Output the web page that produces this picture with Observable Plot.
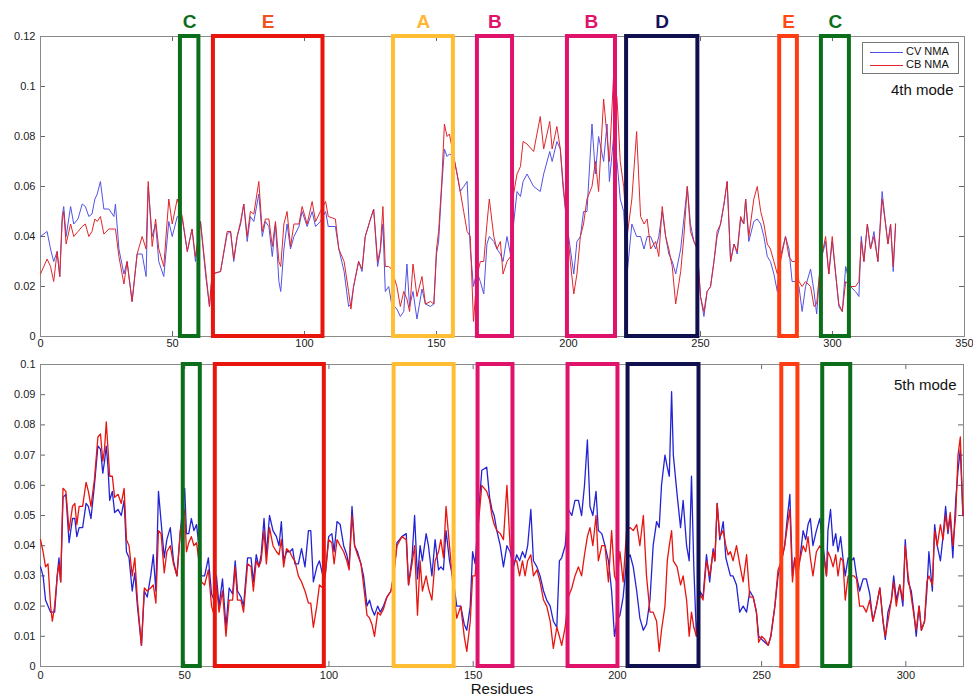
<!DOCTYPE html>
<html>
<head>
<meta charset="utf-8">
<script src="https://cdn.jsdelivr.net/npm/d3@7"></script>
<script src="https://cdn.jsdelivr.net/npm/@observablehq/plot@0.6"></script>
<style>
  html, body { margin: 0; padding: 0; background: #fff; overflow: hidden; }
  #wrap { position: relative; width: 973px; height: 699px; background: #fff; font-family: "Liberation Sans", Arial, sans-serif; }
  #wrap svg { position: absolute; left: 0; overflow: visible; }
  #legend { position: absolute; left: 862px; top: 42px; width: 95px; height: 30px; border: 1px solid #777; background: #fff; font-size: 11px; color: #111; }
  #legend .row { position: absolute; left: 7px; height: 13px; line-height: 13px; white-space: nowrap; }
  #legend .sw { display: inline-block; width: 33px; height: 1px; vertical-align: middle; margin-right: 3px; }
</style>
</head>
<body>
<div id="wrap"></div>
<script>
// ---------- data ----------
const regionLabels = ["C", "E", "A", "B", "B", "D", "E", "C"];
const topRegionStart = [53, 65.5, 133.7, 165.5, 199.6, 222, 280, 295.8];
const topRegionEnd   = [60, 107, 156.4, 178.8, 217.8, 249, 286.7, 306.4];
const botRegionStart = [49.5, 60.6, 122.6, 151.7, 182.9, 203.7, 257, 271.2];
const botRegionEnd   = [55.4, 98.4, 143.4, 163.8, 200.2, 228.3, 262.6, 280.9];

const topXTicks = [0, 50, 100, 150, 200, 250, 300, 350];
const topYTicks = [0, 0.02, 0.04, 0.06, 0.08, 0.1, 0.12];
const botXTicks = [0, 50, 100, 150, 200, 250, 300];
const botYTicks = [0, 0.01, 0.02, 0.03, 0.04, 0.05, 0.06, 0.07, 0.08, 0.09, 0.1];

const seriesNames = ["CV NMA", "CB NMA"];
const modeLabels = ["4th mode", "5th mode"];

// 4th mode (top panel)
const topRes = [
  0,2.5,3.8,5,6.3,7.3,8.2,8.8,9.7,11.4, 12.6,14.2,15.8,17,18.3,19.5,20.6,21.5,22.7,24,
  25.9,27.8,28.4,29.7,31.6,32.8,34.7,36.6,38.5,40, 40.8,42.3,43.6,44.8,46.7,48.6,49.9,51.8,53.7,55.6,
  57.4,58.7,60.6,62.5,64,65,68.2,70.7,72,73.2, 74.5,75.8,77,78.3,79.5,80.8,82.7,84,85.2,86.5,
  87.8,89,90.3,91,92.2,93.4,94.7,96,97.9,99.1, 101,102.9,104.2,106,108,
  109,111.7,113,115,116.7,117.6,118.6,120.5,121.8,123, 125,126.2,127.7,128.7,129.7,130.6,131.9,133,135,136.3,
  137.6,138.8,139.8,141.1,142.6,144.5,145.8,147.7,149,150, 150.8,152,153,154,154.9,156.5,157.8,159,160.3,161.6,
  162.8,164,165.3,166.6,167.9,169.1,170,171.7,172.9,174.2, 175.2,176.7,178,179.2,180.5,181.8,182.8,184.3,186.8,189.3,
  190.6,192.9,193.8,195.6,196.9,197.9,199.4,200.7,202,203.2, 204.5,205.7,207,208.9,210.2,211.4,213.3,214.6,215.5,217.1,
  218.4,219.6,220.9,222.2,224,225.8,
  227.3,228.6,229.8,231.1,233,234.2,235.5,236.8,238,239.3, 240.6,242.5,243.7,245,246.2,247.5,248.8,250,251.3,252.5,
  253.8,255.1,256.3,257.6,258.9,260.1,261.4,262.7,263.9,265.2, 266.4,267.1,268.3,270.2,271.5,272.8,274,275.3,276.5,277.8,
  279.1,280.3,282.2,283.5,284.7,286,287.3,288.5,289.8,291.7, 293,294,295.5,297.4,298.6,299.9,301.2,302.4,303.7,305,
  306.8,308.7,310,310.9,311.9,313.2,314.4,315.7,317.2,318.8, 320.1,321,322,323,323.9
];
const topCV = [
  .040,.042,.035,.030,.034,.024,.048,.052,.040,.052, .045,.047,.053,.052,.048,.049,.055,.057,.062,.051,
  .051,.048,.053,.035,.025,.030,.014,.033,.033,.024, .060,.040,.045,.030,.024,.046,.040,.048,.047,.034,
  .043,.030,.046,.025,.012,.025,.026,.041,.042,.030, .040,.045,.053,.038,.048,.046,.057,.040,.046,.044,
  .032,.045,.022,.018,.035,.045,.035,.040,.044,.050, .044,.050,.044,.046,.050,
  .044,.044,.035,.026,.012,.013,.020,.030,.026,.040, .047,.051,.028,.034,.045,.018,.020,.013,.011,.008,
  .010,.029,.012,.018,.007,.019,.013,.012,.013,.033, .038,.060,.075,.072,.073,.072,.065,.058,.060,.062,
  .035,.020,.026,.022,.017,.037,.040,.038,.035,.033, .030,.040,.033,.045,.058,.056,.062,.065,.060,.058,
  .065,.074,.070,.078,.075,.060,.045,.035,.025,.038, .040,.050,.050,.085,.065,.080,.070,.085,.062,.080,
  .070,.055,.050,.025,.045,.040,
  .040,.035,.040,.040,.035,.040,.050,.040,.033,.030, .025,.035,.047,.060,.045,.038,.035,.016,.008,.018,
  .020,.030,.040,.045,.053,.062,.030,.037,.033,.047, .045,.055,.038,.046,.047,.045,.040,.032,.030,.025,
  .018,.032,.040,.035,.022,.022,.020,.010,.020,.027, .018,.009,.030,.038,.025,.038,.025,.012,.010,.028,
  .020,.018,.016,.040,.030,.045,.035,.042,.030,.058, .045,.037,.045,.026,.045
];
const topCB = [
  .025,.031,.028,.022,.034,.024,.046,.050,.037,.045, .040,.042,.044,.045,.040,.042,.047,.046,.048,.041,
  .043,.043,.043,.032,.021,.030,.014,.033,.040,.035, .062,.036,.047,.035,.028,.055,.045,.055,.048,.034,
  .043,.032,.046,.027,.012,.025,.026,.042,.042,.031, .040,.046,.053,.040,.050,.049,.062,.042,.047,.047,
  .036,.046,.030,.028,.045,.050,.036,.045,.045,.052, .045,.054,.046,.050,.054,
  .048,.047,.035,.030,.018,.011,.020,.030,.027,.040, .047,.051,.030,.035,.052,.028,.028,.027,.020,.012,
  .018,.015,.010,.029,.016,.024,.013,.014,.013,.035, .042,.062,.085,.080,.081,.072,.065,.058,.050,.042,
  .040,.006,.024,.030,.030,.045,.055,.040,.035,.038, .025,.030,.032,.057,.065,.068,.078,.077,.074,.088,
  .075,.086,.075,.084,.075,.062,.045,.030,.017,.025, .040,.045,.055,.060,.070,.058,.095,.080,.070,.105,
  .095,.070,.060,.040,.055,.082,
  .048,.045,.047,.035,.038,.032,.052,.040,.035,.028, .013,.026,.040,.060,.042,.038,.035,.016,.010,.018,
  .020,.030,.042,.045,.053,.062,.030,.037,.034,.048, .045,.055,.040,.055,.060,.050,.045,.037,.035,.030,
  .025,.030,.040,.032,.030,.030,.022,.020,.022,.020, .012,.013,.030,.040,.025,.040,.025,.013,.010,.022,
  .020,.020,.022,.038,.030,.045,.035,.040,.030,.055, .045,.037,.045,.028,.045
];

// 5th mode (bottom panel)
const botRes = [
  0,0.9,1.75,2.6,3.5,4.1,4.9,5.8,6.4,7, 7.8,8.8,9.9,11.1,11.9,12.6,13.4,14.6,15.8,16.6,
  17.5,18.7,19.9,20.8,21.6,22.2,22.8,23.4,24,24.9, 25.7,26.9,28,29,29.8,30.7,31.8,32.7,33.6,35,
  36,37,38.2,39.1,40,40.9,41.8,42.9,43.8,45, 46.1,47.3,48.5,50,50.6,51.4,52.3,53.2,54.1,54.9,
  55.8,56.9,58.2,59.3,60.2,61,61.9,63.1,64.3,65.4, 66.6,67.5,68.3,69.5,70.4,71.8,73,73.8,74.8,75.7,
  76.5,77.5,78.3,79.4,80.6,81.8,82.7,83.5,84.3,85.3, 86.4,87.4,88.2,89.4,90.5,91.7,92.9,93.7,94.6,95.8,
  96.7,97.9,98.7,99.9,
  101,101.8,102.8,103.9,105.1,106.2,107,108,108.9,109.9, 111.1,112,113.2,114.1,114.9,115.8,116.9,117.8,118.9,120.1,
  121.5,122.4,123.6,125.3,126.8,127.6,128.8,129.7,130.7,131.6, 132.4,133.7,134.5,135.7,136.8,138,138.8,139.7,140.6,141.8,
  143.2,144.3,145.7,146.9,147.8,149,149.8,150.7,151.8,153, 154.7,155.7,156.5,157.3,158.2,159.4,160.5,161.7,162.8,164,
  165.1,166.1,167.1,168,168.9,170,170.9,172.1,173.2,174.4, 175.5,176.7,177.8,179,179.9,180.7,181.9,183,184.2,185.3,
  186.5,187.6,188.6,189.6,190.5,191.5,192.6,193.4,194.6,195.7, 196.9,198,199,199.8,200.9,202,203.2,204.4,205.5,206.7,
  207.8,209,210.1,211.3,212.4,213.6,214.5,215.3,216.5,217.3, 218,218.8,219.4,220.7,221.9,222.8,224,224.9,225.7,226.5,
  227.4,228.6,229.7,230.9,232,233.2,233.8,234.6,235.5,236.7, 237.6,238.4,239.2,240.1,241.3,242.4,243.6,244.8,245.9,247.1,
  248.2,249,250,251.1,252.3,253.2,254.6,255.7,256.9,258, 259,259.8,260.7,261.5,262.3,263.2,264.4,265.3,266.1,266.9,
  267.8,269,270.2,271.3,272.5,273,273.9,274.8,275.7,276.5, 277.4,278.2,279,280,281.1,282,282.9,284,285.2,286.3,
  287.5,288.6,289.8,291,292.1,292.9,293.8,295,295.8,296.7, 297.9,299,299.8,300.8,301.9,302.8,303.6,304.6,305.4,306.5,
  307.3,308,309.2,310,310.9,312,312.9,313.8,314.6,315.4, 316.3,317.3,318.1,318.9,319.8
];
const botCV = [
  .033,.030,.022,.020,.018,.018,.018,.030,.036,.028, .056,.057,.041,.049,.049,.043,.046,.046,.054,.053,
  .049,.060,.073,.072,.064,.068,.073,.066,.055,.058, .051,.052,.050,.055,.038,.036,.025,.031,.020,.007,
  .025,.023,.030,.037,.025,.058,.048,.036,.042,.046, .035,.030,.045,.059,.044,.044,.049,.045,.047,.040,
  .030,.030,.036,.024,.022,.030,.020,.029,.013,.026, .024,.035,.025,.023,.020,.036,.036,.028,.037,.033,
  .037,.049,.037,.050,.045,.043,.040,.048,.035,.038, .038,.039,.034,.034,.039,.033,.045,.045,.028,.033,
  .035,.030,.030,.043,
  .044,.038,.048,.047,.040,.037,.033,.053,.040,.038, .034,.030,.020,.022,.019,.017,.020,.018,.020,.023,
  .025,.030,.041,.043,.044,.027,.036,.050,.029,.040, .035,.044,.040,.030,.042,.032,.033,.032,.045,.035,
  .028,.020,.020,.014,.012,.020,.038,.034,.050,.065, .066,.056,.052,.050,.045,.040,.033,.040,.038,.033,
  .037,.035,.038,.036,.040,.052,.035,.033,.030,.025, .022,.020,.015,.013,.035,.036,.040,.052,.050,.055,
  .055,.050,.060,.075,.053,.050,.058,.045,.044,.040, .035,.025,.010,.015,.017,.023,.035,.037,.033,.025,
  .016,.012,.014,.022,.040,.048,.046,.060,.070,.066, .063,.091,.070,.057,.046,.055,.040,.035,.063,.033,
  .010,.025,.023,.037,.028,.039,.035,.054,.042,.048, .036,.033,.030,.030,.027,.018,.020,.018,.025,.023,
  .018,.010,.009,.008,.007,.010,.020,.030,.035,.040, .050,.057,.030,.036,.032,.035,.045,.042,.047,.049,
  .040,.045,.049,.040,.030,.045,.052,.040,.044,.038, .043,.036,.030,.036,.035,.036,.030,.025,.029,.029,
  .024,.015,.020,.026,.015,.009,.018,.022,.030,.022, .027,.020,.042,.028,.025,.018,.010,.020,.012,.015,
  .025,.038,.025,.047,.040,.035,.043,.053,.044,.050, .036,.055,.065,.072,.050
];
const botCB = [
  .042,.038,.033,.034,.020,.015,.020,.030,.034,.028, .059,.058,.045,.053,.054,.047,.053,.053,.061,.058,
  .053,.062,.076,.077,.068,.072,.081,.072,.063,.063, .056,.057,.054,.059,.042,.040,.030,.036,.022,.007,
  .026,.025,.026,.027,.021,.045,.044,.031,.038,.040, .034,.030,.045,.052,.038,.041,.043,.040,.041,.035,
  .028,.027,.032,.020,.017,.027,.018,.025,.010,.022, .022,.033,.022,.022,.018,.034,.033,.025,.035,.033,
  .035,.045,.034,.046,.040,.038,.037,.042,.033,.039, .038,.036,.035,.030,.028,.025,.021,.021,.013,.020,
  .027,.026,.030,.042,
  .041,.034,.042,.040,.038,.035,.032,.050,.040,.037, .034,.027,.017,.016,.014,.010,.018,.017,.019,.023,
  .025,.030,.040,.043,.042,.027,.034,.040,.017,.035, .025,.030,.026,.022,.035,.038,.042,.036,.053,.040,
  .025,.016,.020,.010,.005,.015,.030,.030,.047,.060, .058,.055,.050,.047,.045,.044,.042,.060,.040,.035,
  .035,.030,.035,.030,.035,.037,.030,.032,.028,.022, .020,.015,.006,.013,.010,.007,.013,.023,.026,.030,
  .033,.030,.037,.043,.046,.040,.050,.035,.040,.040, .028,.045,.030,.028,.038,.028,.045,.046,.045,.047,
  .040,.050,.030,.018,.018,.015,.005,.012,.020,.035, .040,.045,.035,.033,.027,.030,.022,.010,.018,.013,
  .010,.024,.022,.035,.030,.038,.035,.054,.043,.045, .040,.037,.038,.035,.040,.034,.028,.037,.023,.023,
  .018,.008,.010,.009,.007,.010,.020,.032,.035,.040, .047,.052,.028,.036,.028,.035,.040,.038,.043,.036,
  .030,.038,.040,.038,.030,.038,.036,.033,.037,.030, .036,.035,.022,.030,.030,.030,.029,.020,.020,.018,
  .022,.015,.020,.026,.015,.010,.015,.022,.028,.020, .027,.022,.040,.030,.023,.017,.012,.020,.012,.015,
  .028,.030,.027,.045,.040,.047,.042,.050,.045,.051, .040,.050,.070,.076,.050
];

// ---------- styles ----------
const boxStroke  = ["#0c6d1a", "#e8150f", "#ffbe33", "#e0136c", "#e0136c", "#10104f", "#ff3c12", "#0c6d1a"];
const letterFill = ["#0c6d1a", "#f0531f", "#ffb635", "#e0136c", "#e0136c", "#13135a", "#ff4a18", "#0c6d1a"];
const cvColorTop = "#5252e6", cbColorTop = "#e0262b";
const cvColorBot = "#2323d6", cbColorBot = "#e8140e";
const fmt = d3.format("~g");

function rows(res, cv, cb) {
  const n = Math.min(res.length, cv.length, cb.length);
  return d3.range(n).map(i => ({r: res[i], cv: cv[i], cb: cb[i]}));
}
function regions(start, end) {
  return regionLabels.map((label, i) => ({label, x1: start[i], x2: end[i], stroke: boxStroke[i], fill: letterFill[i]}));
}

const wrap = document.getElementById("wrap");
const font = {fontFamily: "'Liberation Sans', Arial, sans-serif", fontSize: "11px", color: "#1a1a1a", background: "transparent", overflow: "visible"};

// ---------- top panel ----------
{
  const W = 973, H = 350, mL = 40, mR = 9, mT = 36, mB = 14;
  const pw = W - mL - mR, ph = H - mT - mB;
  const data = rows(topRes, topCV, topCB);
  const boxes = regions(topRegionStart, topRegionEnd);
  const yMax = topYTicks[topYTicks.length - 1];
  const chart = Plot.plot({
    width: W, height: H, marginLeft: mL, marginRight: mR, marginTop: mT, marginBottom: mB,
    x: {domain: [0, 350]}, y: {domain: [0, yMax]},
    color: {type: "identity"},
    style: font,
    marks: [
      Plot.axisX(topXTicks, {tickSize: 0, tickPadding: 3, tickFormat: fmt, label: null, fontSize: 11}),
      Plot.axisY(topYTicks, {tickSize: 0, tickPadding: 5, tickFormat: fmt, label: null, fontSize: 11}),
      Plot.tickX(topXTicks, {x: d => d, insetTop: ph - 5, stroke: "#666"}),
      Plot.tickX(topXTicks, {x: d => d, insetBottom: ph - 5, stroke: "#666"}),
      Plot.tickY(topYTicks, {y: d => d, insetRight: pw - 5, stroke: "#666"}),
      Plot.tickY(topYTicks, {y: d => d, insetLeft: pw - 5, stroke: "#666"}),
      Plot.frame({stroke: "#8a8a8a"}),
      Plot.line(data, {x: "r", y: "cv", stroke: cvColorTop, strokeWidth: 1}),
      Plot.line(data, {x: "r", y: "cb", stroke: cbColorTop, strokeWidth: 1}),
      Plot.rect(boxes, {x1: "x1", x2: "x2", y1: 0, y2: yMax, stroke: "stroke", fill: "none", strokeWidth: 4}),
      Plot.text(boxes, {x: d => (d.x1 + d.x2) / 2, y: yMax, dy: -15, text: "label", fill: "fill", fontSize: 19, fontWeight: "bold"}),
      Plot.text([modeLabels[0]], {frameAnchor: "top-right", lineAnchor: "middle", dx: -11, dy: 54, textAnchor: "end", fontSize: 15, fill: "#111"})
    ]
  });
  chart.style.top = "0px";
  wrap.appendChild(chart);
}

// ---------- bottom panel ----------
{
  const W = 973, H = 349, mL = 40, mR = 10, mT = 14, mB = 33;
  const pw = W - mL - mR, ph = H - mT - mB;
  const data = rows(botRes, botCV, botCB);
  const boxes = regions(botRegionStart, botRegionEnd);
  const yMax = botYTicks[botYTicks.length - 1];
  const chart = Plot.plot({
    width: W, height: H, marginLeft: mL, marginRight: mR, marginTop: mT, marginBottom: mB,
    x: {domain: [0, 320]}, y: {domain: [0, yMax]},
    color: {type: "identity"},
    style: font,
    marks: [
      Plot.axisX(botXTicks, {tickSize: 0, tickPadding: 5, tickFormat: fmt, label: null, fontSize: 11}),
      Plot.axisY(botYTicks, {tickSize: 0, tickPadding: 5, tickFormat: fmt, label: null, fontSize: 11}),
      Plot.tickX(botXTicks, {x: d => d, insetTop: ph - 5, stroke: "#666"}),
      Plot.tickX(botXTicks, {x: d => d, insetBottom: ph - 5, stroke: "#666"}),
      Plot.tickY(botYTicks, {y: d => d, insetRight: pw - 5, stroke: "#666"}),
      Plot.tickY(botYTicks, {y: d => d, insetLeft: pw - 5, stroke: "#666"}),
      Plot.frame({stroke: "#8a8a8a"}),
      Plot.line(data, {x: "r", y: "cv", stroke: cvColorBot, strokeWidth: 1.3}),
      Plot.line(data, {x: "r", y: "cb", stroke: cbColorBot, strokeWidth: 1.3}),
      Plot.rect(boxes, {x1: "x1", x2: "x2", y1: 0, y2: yMax, stroke: "stroke", fill: "none", strokeWidth: 4}),
      Plot.text([modeLabels[1]], {frameAnchor: "top-right", lineAnchor: "middle", dx: -7, dy: 21, textAnchor: "end", fontSize: 15, fill: "#111"}),
      Plot.text(["Residues"], {frameAnchor: "bottom", lineAnchor: "middle", dy: 23, fontSize: 15, fill: "#111"})
    ]
  });
  chart.style.top = "350px";
  wrap.appendChild(chart);
}

// ---------- legend ----------
{
  const lg = document.createElement("div");
  lg.id = "legend";
  const cols = [cvColorTop, cbColorTop];
  seriesNames.forEach((name, i) => {
    const row = document.createElement("div");
    row.className = "row";
    row.style.top = (2 + i * 13) + "px";
    row.innerHTML = `<span class="sw" style="background:${cols[i]}"></span>${name}`;
    lg.appendChild(row);
  });
  wrap.appendChild(lg);
}
</script>
</body>
</html>
